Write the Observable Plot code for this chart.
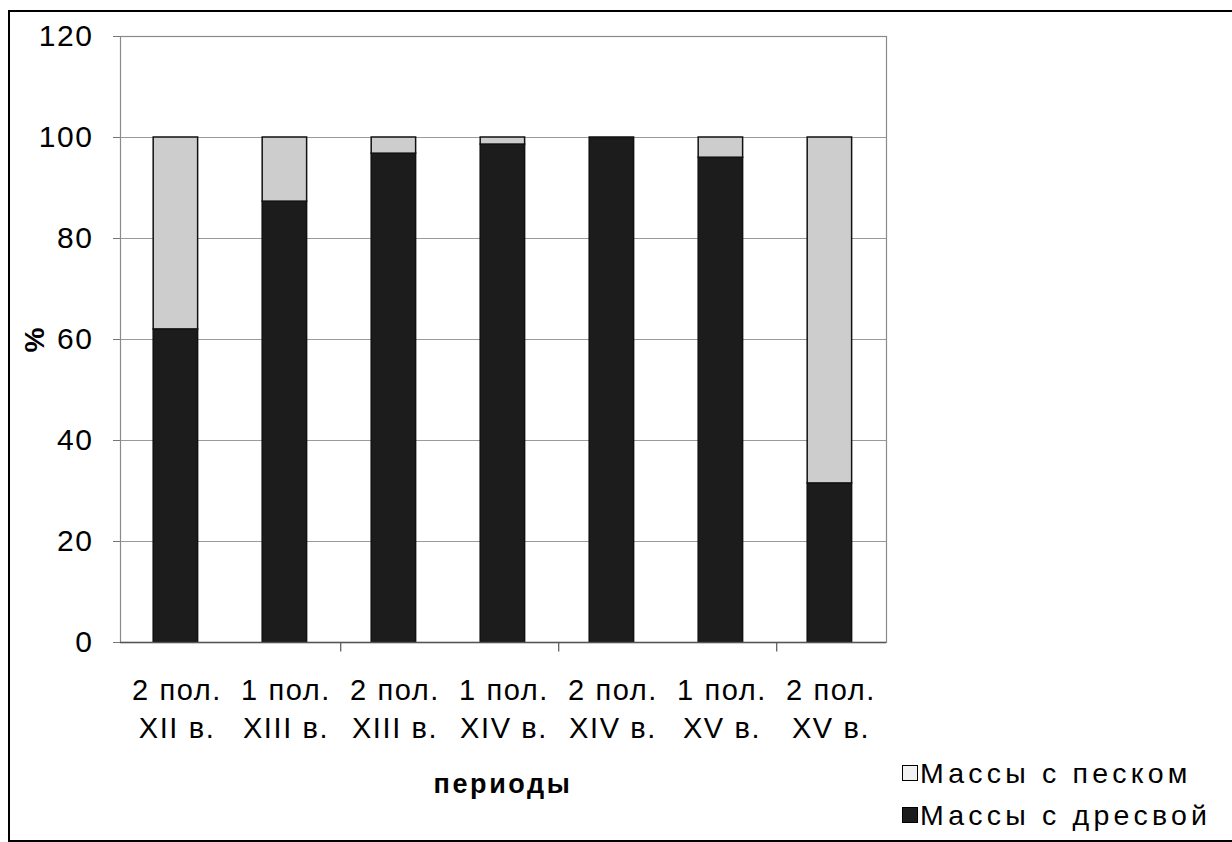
<!DOCTYPE html>
<html><head><meta charset="utf-8">
<script src="https://cdn.jsdelivr.net/npm/d3@7"></script>
<script src="https://cdn.jsdelivr.net/npm/@observablehq/plot@0.6"></script>
<style>
body{margin:0;background:#fff;font-family:"Liberation Sans",Arial,sans-serif;}
#wrap{position:relative;width:1232px;height:842px;overflow:hidden;background:#fff;}
#border{position:absolute;left:8px;top:10px;width:1240px;height:828px;border:2px solid #000;pointer-events:none;}
#chart{position:absolute;left:0;top:0;}
#chart svg text{letter-spacing:1.6px;}
.ylab{position:absolute;left:35px;top:340px;transform:translate(-50%,-50%) rotate(-90deg);font-weight:bold;font-size:28px;}
.xlab{position:absolute;left:503px;top:784px;transform:translate(-50%,-50%);font-weight:bold;font-size:27px;letter-spacing:2.6px;white-space:nowrap;}
#legend{position:absolute;left:902px;top:752px;font-size:28.5px;letter-spacing:4.2px;line-height:42px;}
#legend .row{display:flex;align-items:center;white-space:nowrap;}
#legend .sw{width:16px;height:16px;border:1.5px solid #000;box-sizing:border-box;margin-right:2px;}
</style>
</head><body>
<div id="wrap">
  <div id="chart"></div>
  <div class="ylab">%</div>
  <div class="xlab">периоды</div>
  <div id="legend"></div>
  <div id="border"></div>
</div>
<script>
const periods = ["2 пол.\nXII в.", "1 пол.\nXIII в.", "2 пол.\nXIII в.", "1 пол.\nXIV в.", "2 пол.\nXIV в.", "1 пол.\nXV в.", "2 пол.\nXV в."];
const dresva = [62, 87.3, 96.8, 98.6, 100, 96, 31.5];
const pesok  = [38, 12.7, 3.2, 1.4, 0, 4, 68.5];
const seriesNames = ["Массы с дресвой", "Массы с песком"];
const seriesColors = ["#1c1c1c", "#cdcdcd"];
const legendOrder = ["Массы с песком", "Массы с дресвой"];
const yTicks = [0, 20, 40, 60, 80, 100, 120];
const boundaryTicks = [periods[1], periods[3], periods[5]];

const table = [];
periods.forEach((p, i) => {
  table.push({period: p, series: seriesNames[0], value: dresva[i]});
  table.push({period: p, series: seriesNames[1], value: pesok[i]});
});

const W = 1232, H = 842, mL = 120, mR = 346, mT = 36, mB = 200;
const band = (W - mL - mR) / periods.length;

const chart = Plot.plot({
  width: W, height: H,
  marginLeft: mL, marginRight: mR, marginTop: mT, marginBottom: mB,
  style: {fontFamily: "'Liberation Sans', Arial, sans-serif", color: "#000", background: "transparent"},
  x: {domain: periods, padding: 0},
  y: {domain: [0, 120]},
  color: {domain: seriesNames, range: seriesColors},
  marks: [
    Plot.gridY(yTicks.filter(d => d > 0), {stroke: "#9a9a9a", strokeOpacity: 1, strokeWidth: 1}),
    Plot.frame({stroke: "#8a8a8a", strokeWidth: 1.2}),
    Plot.barY(table, Plot.stackY({x: "period", y: "value", fill: "series", order: seriesNames,
      stroke: "#111", strokeWidth: 1.5, insetLeft: band * 0.285, insetRight: band * 0.305})),
    Plot.ruleY([0], {stroke: "#555", strokeWidth: 1.3}),
    Plot.ruleX(boundaryTicks, {x: d => d, dx: band / 2, y1: 0, y2: -1.9, stroke: "#555", strokeWidth: 1.2}),
    Plot.axisY(yTicks, {tickSize: 7, tickPadding: 20, fontSize: 30, stroke: "#777", tickFormat: d => String(d), label: null}),
    Plot.axisX({tickSize: 0, tickPadding: 30, fontSize: 29, lineHeight: 1.32, label: null})
  ]
});
document.getElementById("chart").appendChild(chart);

const leg = document.getElementById("legend");
legendOrder.forEach(name => {
  const row = document.createElement("div");
  row.className = "row";
  const sw = document.createElement("span");
  sw.className = "sw";
  sw.style.background = name === seriesNames[1] ? "#f2f2f2" : seriesColors[0];
  const t = document.createElement("span");
  t.textContent = name;
  row.appendChild(sw); row.appendChild(t);
  leg.appendChild(row);
});
</script>
</body></html>
